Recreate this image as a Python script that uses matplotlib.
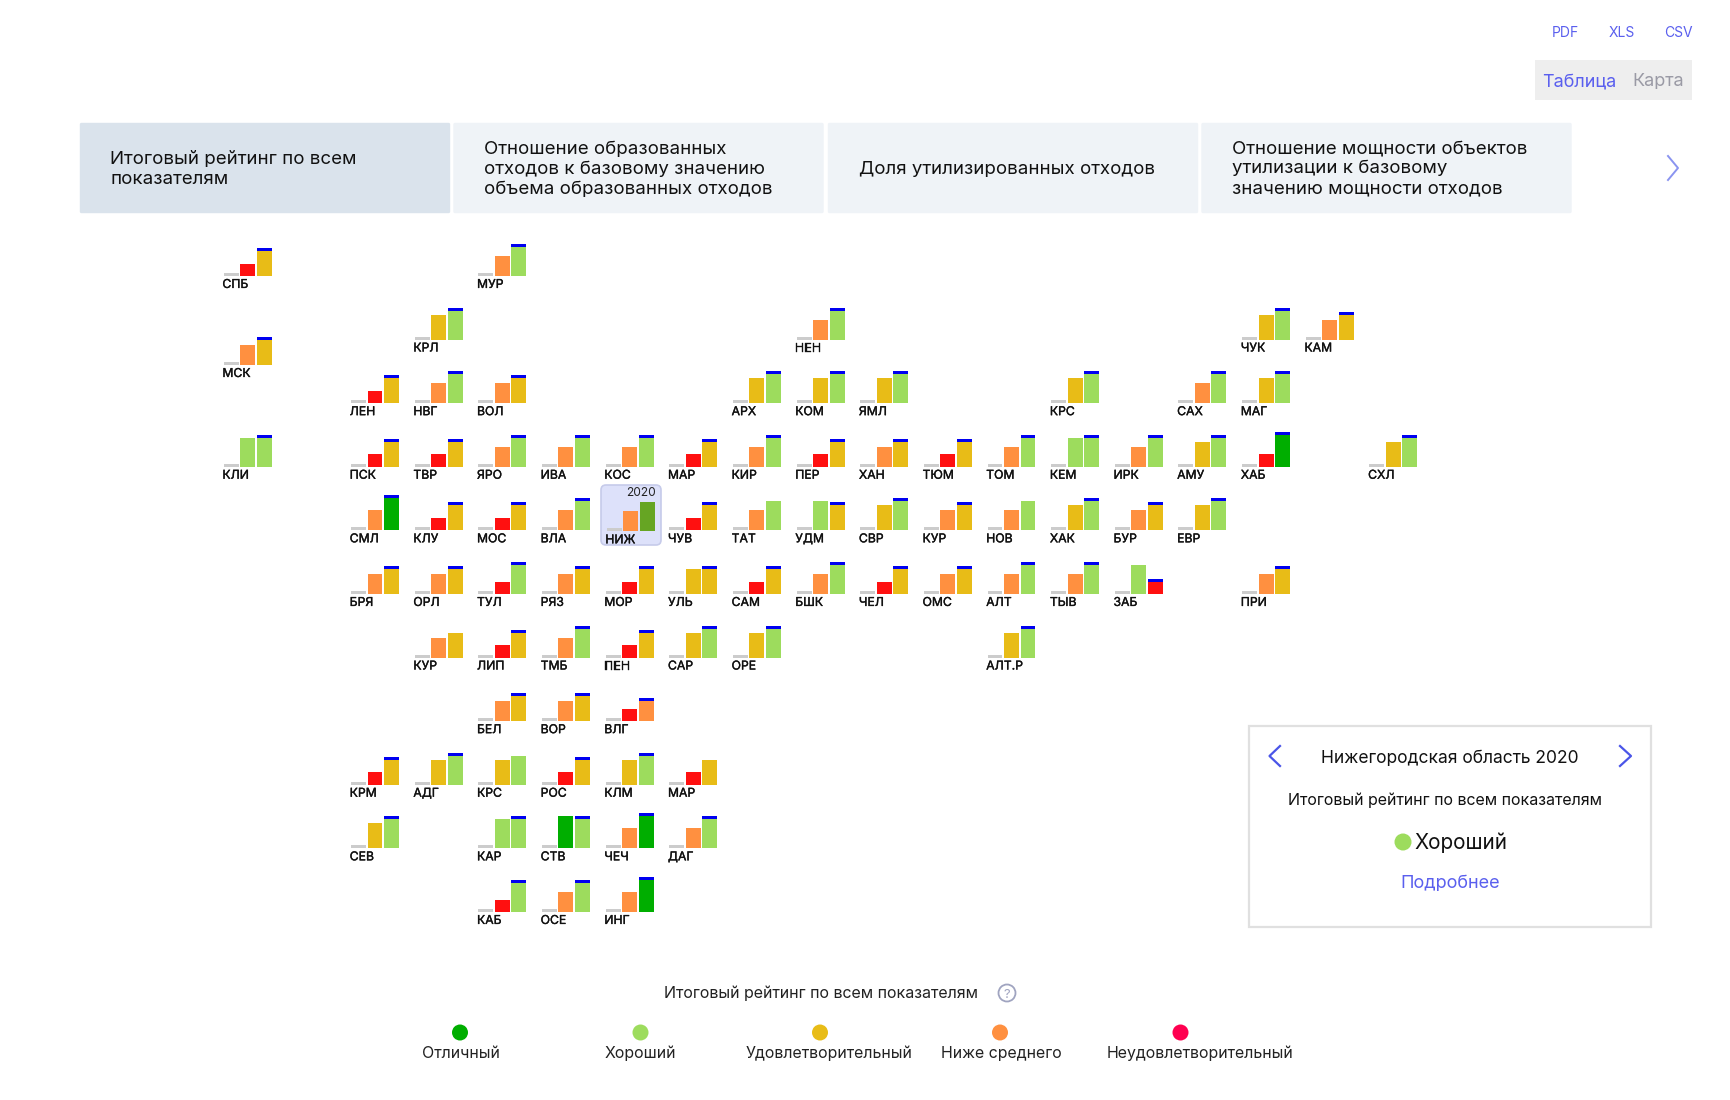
import matplotlib
matplotlib.use("Agg")
import matplotlib.pyplot as plt
import matplotlib.patheffects as pe
from matplotlib.patches import FancyBboxPatch, Rectangle, Circle

FONT = ["Inter", "DejaVu Sans"]
plt.rcParams["font.family"] = FONT

# ---- data -----------------------------------------------------------------
labels = ["СПБ","МУР",
          "КРЛ","НЕН","ЧУК","КАМ",
          "МСК",
          "ЛЕН","НВГ","ВОЛ","АРХ","КОМ","ЯМЛ","КРС","САХ","МАГ",
          "КЛИ","ПСК","ТВР","ЯРО","ИВА","КОС","МАР","КИР","ПЕР","ХАН","ТЮМ","ТОМ","КЕМ","ИРК","АМУ","ХАБ","СХЛ",
          "СМЛ","КЛУ","МОС","ВЛА","НИЖ","ЧУВ","ТАТ","УДМ","СВР","КУР","НОВ","ХАК","БУР","ЕВР",
          "БРЯ","ОРЛ","ТУЛ","РЯЗ","МОР","УЛЬ","САМ","БШК","ЧЕЛ","ОМС","АЛТ","ТЫВ","ЗАБ","ПРИ",
          "КУР","ЛИП","ТМБ","ПЕН","САР","ОРЕ","АЛТ.Р",
          "БЕЛ","ВОР","ВЛГ",
          "КРМ","АДГ","КРС","РОС","КЛМ","МАР",
          "СЕВ","КАР","СТВ","ЧЕЧ","ДАГ",
          "КАБ","ОСЕ","ИНГ"]
grid_col = [-2,2,
            1,7,14,15,
            -2,
            0,1,2,6,7,8,11,13,14,
            -2,0,1,2,3,4,5,6,7,8,9,10,11,12,13,14,16,
            0,1,2,3,4,5,6,7,8,9,10,11,12,13,
            0,1,2,3,4,5,6,7,8,9,10,11,12,14,
            1,2,3,4,5,6,10,
            2,3,4,
            0,1,2,3,4,5,
            0,2,3,4,5,
            2,3,4]
grid_row = [0]*2 + [1]*4 + [1.4] + [2]*9 + [3]*17 + [4]*14 + [5]*14 + [6]*7 + [7]*3 + [8]*6 + [9]*5 + [10]*3
val_2018 = [3]*len(labels)
val_2019 = [12.5,20,
            25,20,25,20,
            20,
            12.5,20,20,25,25,25,25,20,25,
            29,12.5,12.5,20,20,20,12.5,20,12.5,20,12.5,20,29,20,25,12.5,25,
            20,12.5,12.5,20,20,12.5,20,29,25,20,20,25,20,25,
            20,20,12.5,20,12.5,25,12.5,20,12.5,20,20,20,29,20,
            20,12.5,20,12.5,25,25,25,
            20,20,12.5,
            12.5,25,25,12.5,25,12.5,
            25,29,32,20,20,
            12.5,20,20]
val_2020 = [25,29,
            29,29,29,25,
            25,
            25,29,25,29,29,29,29,29,29,
            29,25,25,29,29,29,25,29,25,25,25,29,29,29,29,32,29,
            32,25,25,29,29,25,29,25,29,25,29,29,25,29,
            25,25,29,25,25,25,25,29,25,25,29,29,12.5,25,
            25,25,29,25,29,29,29,
            25,25,20,
            25,29,29,25,29,25,
            29,29,29,32,29,
            29,29,32]
no_cap = {("ТАТ",4),("НОВ",4),("КУР",6),("КРС",8),("МАР",8),("НИЖ",4)}
selected = "НИЖ"
cap_size = 3

rating_names = ["Отличный","Хороший","Удовлетворительный","Ниже среднего","Неудовлетворительный"]
tab_lines = [["Итоговый рейтинг по всем","показателям"],
             ["Отношение образованных","отходов к базовому значению","объема образованных отходов"],
             ["Доля утилизированных отходов"],
             ["Отношение мощности объектов","утилизации к базовому","значению мощности отходов"]]

COL = {3:"#CCCCCC", 12.5:"#FF1010", 20:"#FF9040", 25:"#E8BC17", 29:"#9DDC5D", 32:"#00AE00"}
BLUE = "#5A5FEE"
DOT = ["#00AE00","#9DDC5D","#E8BC17","#FF9040","#FF0050"]

W, H = 1730, 1100
fig = plt.figure(figsize=(W/100, H/100), dpi=100, facecolor="white")

# ---- page furniture (pixel coordinates) ------------------------------------
ui = fig.add_axes([0,0,1,1])
ui.set_xlim(0,W); ui.set_ylim(H,0); ui.axis("off")
def T(x,y,s,size,color="#111111",ha="left",**k):
    ui.text(x,y,s,fontsize=size,color=color,ha=ha,va="baseline",**k)

for s,x in zip(["PDF","XLS","CSV"],[1565.5,1622,1678]):
    T(x,37,s,10,BLUE,"center")
ui.add_patch(Rectangle((1535,60),157,40,fc="#EEEEEE",ec="none"))
T(1579,86,"Таблица",13,BLUE,"center")
T(1658,86,"Карта",13,"#9A9AA5","center")

tab_left = [80,453.5,828,1201.5]
text_left = [110,484,859,1232]
for i,(x0,tx,lines) in enumerate(zip(tab_left,text_left,tab_lines)):
    ui.add_patch(FancyBboxPatch((x0+0.5,123.5),369,89,boxstyle="round,pad=0,rounding_size=1",
                                fc="#DAE3EC" if i==0 else "#EFF3F7",ec="#DAE3EC" if i==0 else "#EFF3F7",lw=1))
    base = 174 - (len(lines)-1)*10
    if len(lines)==2: base = 164
    if i==3: base -= 0.6
    for j,l in enumerate(lines):
        T(tx,base+j*20,l,13.45,"#111111")
ui.plot([1668,1678,1668],[156,168,180],color="#8A94F0",lw=1.4)

# selected tile highlight
ui.add_patch(FancyBboxPatch((601,485),60,60,boxstyle="round,pad=0,rounding_size=5",
                            fc="#DDE1FA",ec="#C6CBEA",lw=1.2))
T(656,496.5,"2020",8.6,"#222222","right")

# info card
ui.add_patch(Rectangle((1249,725.5),401.5,201.5,fc="white",ec="#E0E0E0",lw=1.6))
T(1450,763,"Нижегородская область 2020",12.55,"#111111","center")
T(1444.5,804.6,"Итоговый рейтинг по всем показателям",11.5,"#111111","center")
ui.add_patch(Circle((1403,842),8.5,fc=DOT[1],ec="none"))
T(1414,849,"Хороший",14.9,"#111111")
T(1450.5,888,"Подробнее",13,BLUE,"center")
ui.plot([1280,1269.5,1280],[746,756,766],color="#4A55E8",lw=1.6)
ui.plot([1620,1631,1620],[746,756,766],color="#4A55E8",lw=1.6)

# legend
T(664,998,"Итоговый рейтинг по всем показателям",11.5,"#222222")
ui.add_patch(Circle((1007,993),8.5,fc="white",ec="#A0A4C0",lw=1.3))
T(1007,997.5,"?",9.5,"#A0A4C0","center")
for name,c,dx,tx in zip(rating_names,DOT,[460,640.5,820,1000,1180.5],[461,640.5,829.5,1001,1199.5]):
    ui.add_patch(Circle((dx,1032.5),8,fc=c,ec="none"))
    T(tx,1058,name,11.45,"#222222","center")

# ---- tile map: one small axes per region ------------------------------------
X0, DX, Y0, DY = 350.25, 63.65, 276, 63.6
TW, TH = 49.5, 44
bold = [pe.withStroke(linewidth=0.25,foreground="#111111")]
for lab,col,row,a,b,c in zip(labels,grid_col,grid_row,val_2018,val_2019,val_2020):
    sel = lab==selected
    left = X0 + DX*col + (1 if sel else 0)
    base = Y0 + DY*row + (1 if sel else 0)
    ax = fig.add_axes([left/W, 1-base/H, TW/W, TH/H])
    ax.set_xlim(-0.5,2.5); ax.set_ylim(0,TH)
    ax.axis("off"); ax.patch.set_alpha(0)
    colors = [COL[a],COL[b],"#66A523" if sel else COL[c]]
    ax.bar([0,1,2],[a,b,c],width=0.909,color=colors,linewidth=0)
    if (lab,row) not in no_cap:
        ax.bar([2],[cap_size],bottom=[c],width=0.909,color="#0000F0",linewidth=0)
    ax.annotate(lab,xy=(0,0),xycoords="axes fraction",xytext=(-0.4,-8.6),textcoords="offset points",
                fontsize=8.8,color="#111111",va="baseline",ha="left",annotation_clip=False,path_effects=bold)

fig.savefig("out.png",dpi=100,facecolor="white")
